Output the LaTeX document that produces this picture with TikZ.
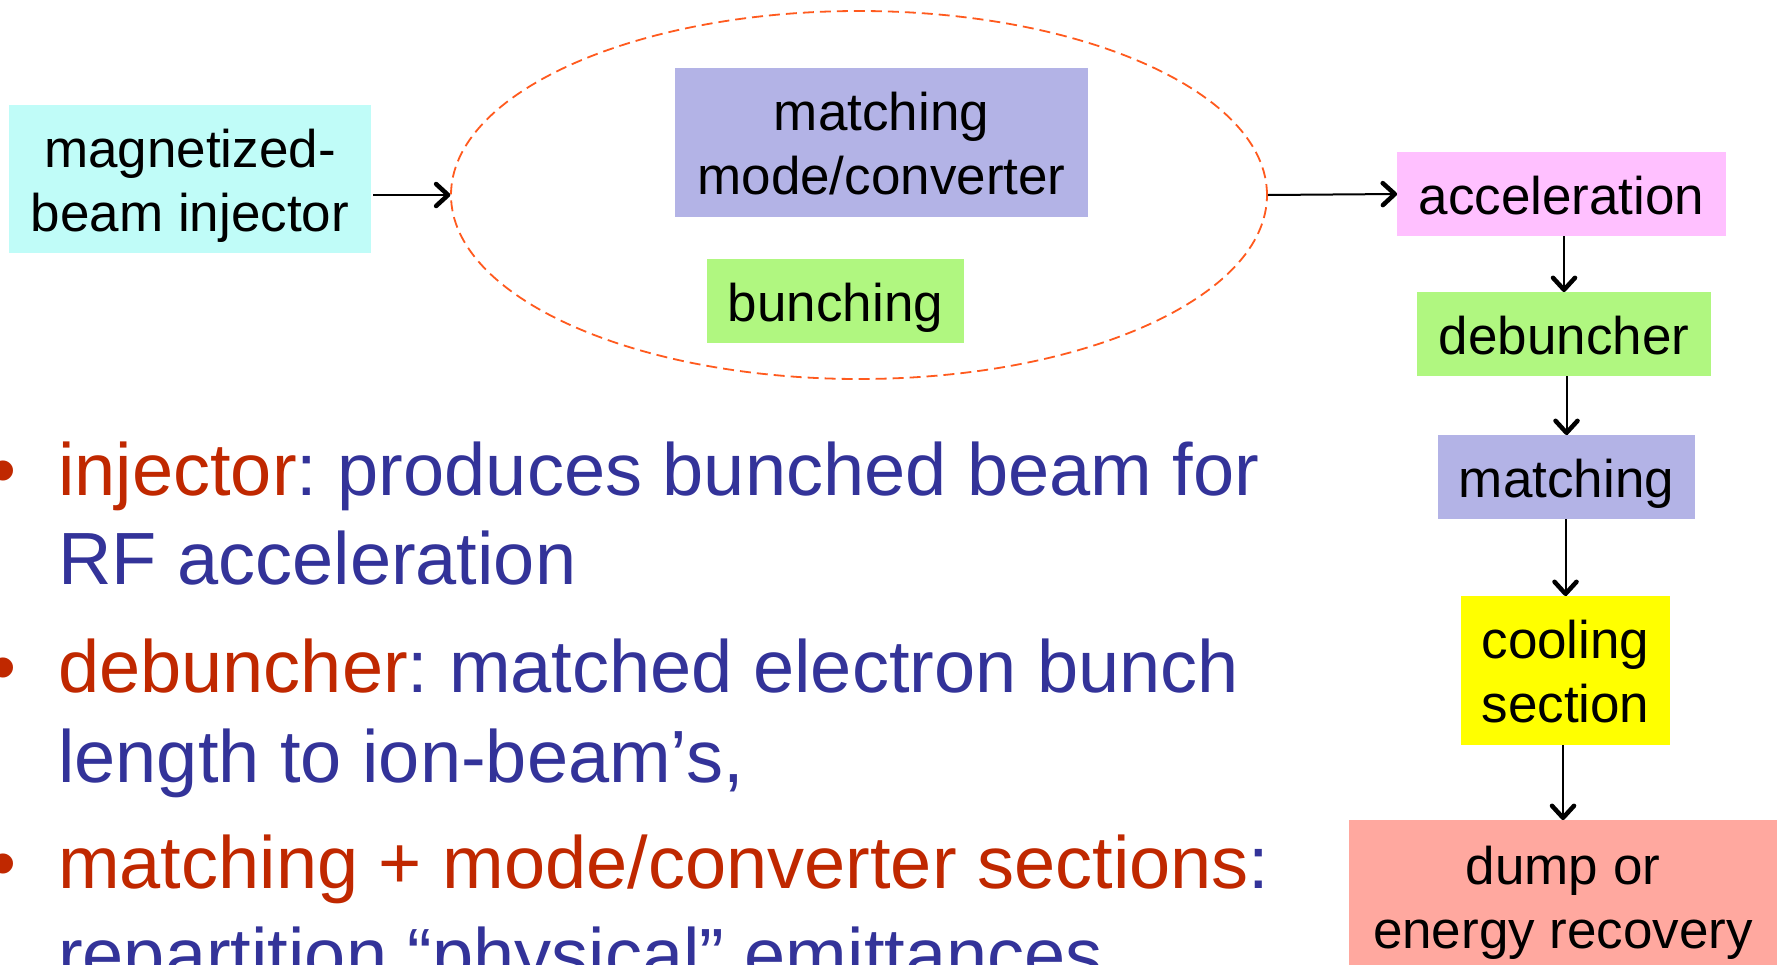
\documentclass[tikz,border=0pt]{standalone}
\usepackage{fontspec}
\setmainfont{Liberation Sans}
\usetikzlibrary{arrows.meta,shapes.geometric,decorations.markings}
\definecolor{cyanbox}{HTML}{C0FCF8}
\definecolor{lavbox}{HTML}{B3B3E6}
\definecolor{greenbox}{HTML}{B0F780}
\definecolor{pinkbox}{HTML}{FFC0FF}
\definecolor{yellowbox}{HTML}{FFFF00}
\definecolor{salmonbox}{HTML}{FFA89F}
\definecolor{ellcol}{HTML}{FF5A1E}
\definecolor{redT}{HTML}{C02800}
\definecolor{blueT}{HTML}{333399}
\newcommand{\lnstrut}{\rule[-12pt]{0pt}{64pt}}
\frenchspacing
\begin{document}
\begin{tikzpicture}[x=1pt,y=-1pt,
  box/.style={rectangle, inner sep=0pt, align=center, text=black,
    font=\fontsize{53}{64}\selectfont\frenchspacing},
  conn/.style={line width=2pt, postaction={decorate},
    decoration={markings, mark=at position 1 with {
      \draw[line width=4.5pt, line cap=round, line join=round]
        (-14pt,-11pt) -- (-2pt,0pt) -- (-14pt,11pt);}}},
  bul/.style={anchor=base west, inner sep=0pt, text=blueT,
    font=\fontsize{74}{89}\selectfont\frenchspacing}]
\useasboundingbox (0,0) rectangle (1777,964);
\clip (0,0) rectangle (1777,964);
\fill[white] (0,0) rectangle (1777,964);

% group ellipse
\node[ellipse, draw=ellcol, dash pattern=on 11pt off 6pt, line width=1.8pt,
  inner sep=0pt, minimum width=816pt, minimum height=368pt] (grp) at (859,195) {};

% boxes
\node[box, fill=cyanbox, minimum width=362pt, minimum height=148pt] (inj) at (190,179) {\lnstrut magnetized-\\beam injector\lnstrut};
\node[box, fill=lavbox, minimum width=413pt, minimum height=149pt] (mm) at (881.5,142.5) {\lnstrut matching\\mode/converter\lnstrut};
\node[box, fill=greenbox, minimum width=257pt, minimum height=84pt] (bun) at (835.5,301) {\lnstrut bunching\lnstrut};
\node[box, fill=pinkbox, minimum width=329pt, minimum height=84pt] (acc) at (1561.5,194) {\lnstrut acceleration\lnstrut};
\node[box, fill=greenbox, minimum width=294pt, minimum height=84pt] (deb) at (1564,334) {\lnstrut debuncher\lnstrut};
\node[box, fill=lavbox, minimum width=257pt, minimum height=84pt] (mat) at (1566.5,477) {\lnstrut matching\lnstrut};
\node[box, fill=yellowbox, minimum width=209pt, minimum height=149pt] (cool) at (1565.5,670.5) {\lnstrut cooling\\section\lnstrut};
\node[box, fill=salmonbox, minimum width=428pt, minimum height=152pt] (dump) at (1563,896) {\lnstrut dump or\\energy recovery\lnstrut};

% connectors
\draw[conn] ([xshift=2pt]inj.east |- grp.west) -- (grp.west);
\draw[conn] (grp.east) -- (acc.west);
\draw[conn] (acc.south -| deb.north) -- (deb.north);
\draw[conn] (deb.south -| mat.north) -- (mat.north);
\draw[conn] (mat.south -| cool.north) -- (cool.north);
\draw[conn] (cool.south -| dump.north) -- (dump.north);

% bullet text
\node[bul, text=redT] (b1) at (-10,495) {•};
\node[bul, text=redT] (b2) at (-10,692) {•};
\node[bul, text=redT] (b3) at (-10,888) {•};
\node[bul] (l1) at (58,495) {\textcolor{redT}{injector}: produces bunched beam for};
\node[bul] (l2) at (58,584) {RF acceleration};
\node[bul] (l3) at (58,692) {\textcolor{redT}{debuncher}: matched electron bunch};
\node[bul] (l4) at (58,782) {length to ion-beam’s,};
\node[bul] (l5) at (58,888) {\textcolor{redT}{matching + mode/converter sections}:};
\node[bul] (l6) at (58,980) {repartition “physical” emittances};
\end{tikzpicture}
\end{document}
